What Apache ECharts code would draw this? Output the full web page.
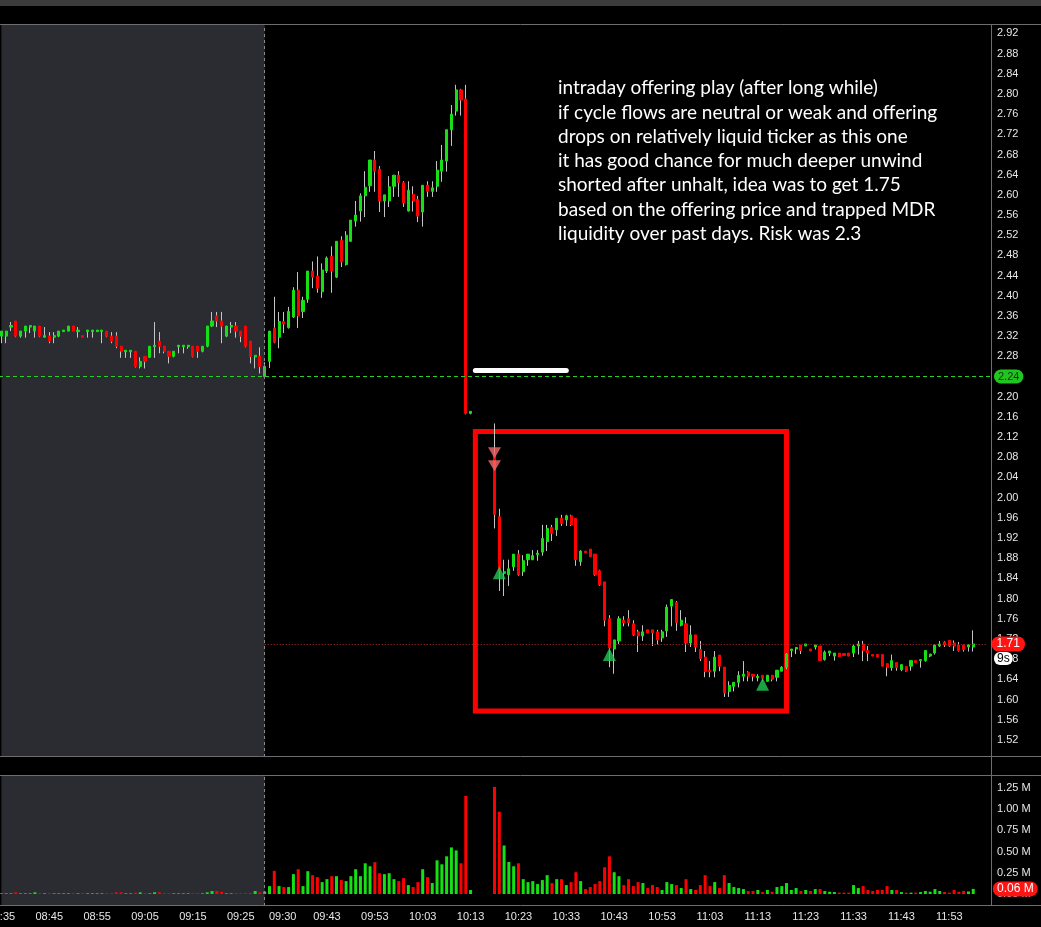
<!DOCTYPE html>
<html><head><meta charset="utf-8">
<script src="https://cdn.jsdelivr.net/npm/echarts@6/dist/echarts.min.js"></script>
<style>html,body{margin:0;padding:0;background:#000;}#c{width:1041px;height:927px;}</style>
</head><body><div id="c"></div>
<script>
// ---------- DATA ----------
// one row per minute from 08:35, [open, close, low, high]; null = halted (no bar)
const candleRows = [
[2.32,2.33,2.306,2.33],[2.32,2.33,2.306,2.33],[2.338,2.341,2.33,2.348],[2.35,2.32,2.318,2.35],[2.32,2.33,2.317,2.33],
[2.33,2.34,2.317,2.34],[2.338,2.341,2.326,2.341],[2.33,2.34,2.317,2.34],[2.34,2.32,2.318,2.34],[2.318,2.321,2.317,2.338],
[2.32,2.31,2.306,2.328],[2.318,2.321,2.306,2.328],[2.32,2.33,2.318,2.33],[2.329,2.332,2.329,2.332],[2.33,2.34,2.33,2.34],
[2.34,2.33,2.33,2.34],[2.329,2.332,2.317,2.338],[2.321,2.318,2.318,2.321],[2.329,2.332,2.317,2.332],[2.329,2.332,2.317,2.332],
[2.329,2.332,2.329,2.332],[2.329,2.332,2.306,2.332],[2.33,2.32,2.318,2.33],[2.32,2.31,2.306,2.328],[2.32,2.30,2.296,2.328],
[2.30,2.29,2.277,2.30],[2.289,2.292,2.277,2.292],[2.289,2.292,2.277,2.292],[2.29,2.26,2.258,2.29],[2.26,2.27,2.256,2.278],
[2.28,2.27,2.256,2.28],[2.278,2.30,2.277,2.30],[2.299,2.302,2.277,2.348],[2.31,2.30,2.286,2.328],[2.30,2.29,2.286,2.30],
[2.29,2.28,2.266,2.29],[2.28,2.29,2.278,2.29],[2.299,2.302,2.286,2.302],[2.299,2.302,2.286,2.302],[2.299,2.302,2.295,2.302],
[2.30,2.28,2.278,2.30],[2.30,2.29,2.277,2.30],[2.29,2.30,2.288,2.30],[2.30,2.34,2.298,2.34],[2.34,2.35,2.338,2.368],
[2.36,2.35,2.338,2.368],[2.35,2.34,2.306,2.368],[2.32,2.34,2.318,2.34],[2.338,2.341,2.326,2.348],[2.34,2.33,2.317,2.348],
[2.33,2.32,2.308,2.33],[2.34,2.30,2.298,2.34],[2.31,2.28,2.266,2.31],[2.279,2.282,2.256,2.282],[2.28,2.26,2.246,2.298],
// 09:30
[2.24,2.26,2.24,2.268],[2.27,2.33,2.257,2.33],[2.336,2.308,2.306,2.398],[2.318,2.349,2.296,2.368],[2.349,2.344,2.326,2.368],
[2.337,2.369,2.335,2.378],[2.358,2.411,2.356,2.417],[2.411,2.36,2.336,2.447],[2.369,2.391,2.356,2.398],[2.393,2.449,2.386,2.449],
[2.449,2.437,2.415,2.468],[2.439,2.415,2.406,2.478],[2.408,2.451,2.396,2.464],[2.449,2.475,2.445,2.478],[2.478,2.449,2.406,2.498],
[2.437,2.508,2.435,2.508],[2.51,2.467,2.457,2.518],[2.462,2.52,2.46,2.528],[2.508,2.55,2.507,2.55],[2.548,2.56,2.537,2.588],
[2.568,2.598,2.547,2.603],[2.598,2.615,2.556,2.647],[2.618,2.669,2.606,2.669],[2.669,2.647,2.606,2.687],[2.651,2.588,2.566,2.657],
[2.588,2.60,2.556,2.60],[2.588,2.616,2.576,2.637],[2.617,2.639,2.596,2.639],[2.639,2.624,2.596,2.647],[2.624,2.584,2.576,2.627],
[2.568,2.609,2.567,2.627],[2.601,2.588,2.567,2.617],[2.591,2.558,2.546,2.598],[2.566,2.619,2.537,2.619],[2.619,2.607,2.596,2.627],
[2.607,2.614,2.596,2.627],[2.617,2.649,2.606,2.667],[2.647,2.669,2.626,2.699],[2.667,2.729,2.646,2.729],[2.729,2.76,2.697,2.778],
[2.766,2.808,2.757,2.818],[2.808,2.788,2.757,2.81],[2.79,2.167,2.165,2.818],[2.167,2.171,2.165,2.171],
null,null,null,null,
// 10:18
[2.086,1.967,1.939,2.147],[1.962,1.855,1.815,1.978],[1.850,1.853,1.805,1.877],[1.847,1.859,1.825,1.877],[1.863,1.888,1.855,1.888],
[1.888,1.847,1.845,1.896],[1.853,1.875,1.845,1.886],[1.877,1.888,1.865,1.888],[1.877,1.885,1.876,1.896],[1.887,1.890,1.875,1.896],
[1.892,1.919,1.885,1.946],[1.913,1.939,1.894,1.946],[1.941,1.929,1.914,1.946],[1.936,1.959,1.924,1.959],[1.959,1.949,1.944,1.966],
[1.956,1.964,1.944,1.966],[1.964,1.946,1.944,1.966],[1.959,1.877,1.865,1.959],[1.873,1.894,1.865,1.896],[1.894,1.891,1.891,1.894],
[1.898,1.883,1.883,1.898],[1.888,1.847,1.845,1.888],[1.855,1.827,1.825,1.857],[1.833,1.757,1.745,1.833],[1.760,1.702,1.664,1.767],
[1.700,1.718,1.651,1.718],[1.716,1.760,1.710,1.765],[1.757,1.752,1.745,1.765],[1.760,1.752,1.745,1.777],[1.750,1.728,1.726,1.757],
[1.734,1.726,1.694,1.738],[1.726,1.734,1.716,1.747],[1.738,1.732,1.732,1.738],[1.738,1.732,1.706,1.738],[1.734,1.718,1.709,1.738],
[1.722,1.734,1.714,1.738],[1.736,1.783,1.724,1.788],[1.785,1.798,1.745,1.798],[1.792,1.752,1.736,1.795],[1.747,1.757,1.745,1.777],
[1.750,1.712,1.694,1.763],[1.712,1.728,1.704,1.747],[1.728,1.704,1.694,1.728],[1.699,1.681,1.676,1.716],[1.684,1.655,1.644,1.696],
[1.658,1.655,1.644,1.676],[1.656,1.684,1.644,1.696],[1.688,1.666,1.656,1.688],[1.664,1.613,1.605,1.664],[1.616,1.628,1.605,1.636],
[1.626,1.634,1.616,1.634],[1.634,1.648,1.624,1.656],[1.646,1.650,1.636,1.676],[1.654,1.646,1.636,1.656],[1.650,1.646,1.636,1.650],
[1.643,1.646,1.636,1.650],[1.648,1.642,1.636,1.648],[1.636,1.648,1.636,1.648],[1.648,1.640,1.636,1.648],[1.644,1.658,1.636,1.658],
[1.656,1.664,1.656,1.666],[1.664,1.690,1.660,1.692],[1.697,1.700,1.684,1.700],[1.700,1.703,1.690,1.703],[1.708,1.697,1.690,1.708],
[1.706,1.710,1.706,1.710],[1.700,1.696,1.696,1.700],[1.704,1.708,1.699,1.708],[1.706,1.677,1.677,1.706],[1.679,1.694,1.677,1.697],
[1.692,1.696,1.686,1.696],[1.686,1.692,1.677,1.692],[1.692,1.685,1.685,1.692],[1.691,1.687,1.687,1.691],[1.692,1.686,1.686,1.692],
[1.692,1.706,1.684,1.709],[1.706,1.710,1.689,1.716],[1.710,1.697,1.676,1.716],[1.697,1.692,1.676,1.706],[1.689,1.686,1.686,1.689],
[1.689,1.684,1.684,1.689],[1.689,1.666,1.666,1.689],[1.671,1.663,1.646,1.671],[1.663,1.677,1.657,1.689],[1.673,1.663,1.657,1.673],
[1.659,1.669,1.656,1.669],[1.665,1.656,1.655,1.665],[1.666,1.677,1.657,1.677],[1.677,1.673,1.673,1.677],[1.677,1.679,1.663,1.679],
[1.677,1.697,1.675,1.697],[1.686,1.690,1.684,1.690],[1.692,1.708,1.689,1.709],[1.706,1.710,1.704,1.716],[1.714,1.708,1.704,1.716],
[1.717,1.706,1.704,1.717],[1.712,1.706,1.696,1.717],[1.708,1.697,1.695,1.714],[1.708,1.699,1.695,1.708],[1.704,1.708,1.695,1.709],
[1.704,1.710,1.695,1.737]
];
// volume per minute, millions of shares (null = halted)
const volumeM = [
.008,.008,.008,.02,.008,.008,.008,.02,.008,.008,.008,.008,.008,.008,.008,.008,.008,.008,.008,.008,
.008,.008,.008,.008,.02,.02,.008,.008,.015,.02,.008,.008,.02,.02,.008,.008,.008,.008,.008,.008,
.008,.008,.008,.02,.035,.035,.025,.008,.008,.008,.008,.008,.01,.035,.02,
.03,.093,.273,.093,.082,.082,.234,.292,.093,.269,.222,.199,.140,.175,.210,.210,.164,.152,.210,.292,
.210,.362,.327,.374,.245,.234,.245,.175,.152,.187,.105,.082,.140,.292,.199,.129,.397,.350,.444,.549,
.514,.362,1.157,.047,null,null,null,null,
1.262,.970,.572,.378,.327,.362,.175,.140,.152,.117,.164,.222,.129,.175,.175,.105,.140,.257,.152,.058,
.082,.117,.152,.315,.444,.257,.210,.105,.175,.093,.140,.129,.070,.105,.082,.047,.140,.117,.105,.070,
.175,.058,.047,.105,.222,.093,.140,.070,.222,.129,.082,.070,.058,.035,.035,.047,.023,.047,.027,.082,
.093,.129,.047,.070,.035,.047,.035,.058,.058,.035,.027,.023,.016,.016,.016,.105,.070,.093,.047,.035,
.047,.047,.093,.047,.047,.023,.016,.016,.016,.023,.035,.027,.058,.035,.023,.016,.047,.027,.035,.03,.06
];
const xTickLabels = ['08:35','08:45','08:55','09:05','09:15','09:25','09:30','09:43','09:53','10:03','10:13',
  '10:23','10:33','10:43','10:53','11:03','11:13','11:23','11:33','11:43','11:53'];
const priceTicks = [1.52,1.56,1.60,1.64,1.68,1.72,1.76,1.80,1.84,1.88,1.92,1.96,2.00,2.04,2.08,2.12,2.16,2.20,
  2.24,2.28,2.32,2.36,2.40,2.44,2.48,2.52,2.56,2.60,2.64,2.68,2.72,2.76,2.80,2.84,2.88,2.92];
const volumeTicks = [0, 0.25, 0.5, 0.75, 1.0, 1.25];
const noteLines = [
  'intraday offering play (after long while)',
  'if cycle flows are neutral or weak and offering',
  'drops on relatively liquid ticker as this one',
  'it has good chance for much deeper unwind',
  'shorted after unhalt, idea was to get 1.75',
  'based on the offering price and trapped MDR',
  'liquidity over past days. Risk was 2.3'
];
const refPrice = 2.24;
const sessionOpen = '09:30';
const sellMarks = [['10:18', 2.089], ['10:18', 2.063]];
const buyMarks = [['10:19', 1.851], ['10:42', 1.689], ['11:14', 1.630]];
const tradeBox = [['10:14', 2.131], ['11:19', 1.577]];
const penStroke = [['10:14', 2.252], ['10:33', 2.252]];
const countdownText = '9s';

// ---------- BUILD ----------
const times = [];
for (let i = 0; i < 207; i++) {
  const m = 8 * 60 + 35 + i;
  times.push(String(Math.floor(m / 60)).padStart(2, '0') + ':' + String(m % 60).padStart(2, '0'));
}
const UP = '#14e014', DOWN = '#ff0000', WICK = '#c4c4c4', PRE_BG = '#2b2c31';
const TXT = '#e6e6e6', FONT = '"Liberation Sans", Arial, sans-serif';
const EMPTY = ['-', '-', '-', '-'];
const wickData = candleRows.map(r => r ? r.slice() : EMPTY);
const bodyData = candleRows.map(r => r ? [r[0], r[1], Math.min(r[0], r[1]), Math.max(r[0], r[1])] : EMPTY);
const volData = volumeM.map((v, i) => v == null ? '-' : {
  value: v, itemStyle: { color: candleRows[i][1] >= candleRows[i][0] ? UP : DOWN }
});
const lastIdx = candleRows.length - 1;
const lastClose = candleRows[lastIdx][1];
const lastVol = volumeM[lastIdx];

const chart = echarts.init(document.getElementById('c'), null, { renderer: 'canvas' });
chart.setOption({
  backgroundColor: '#000',
  animation: false,
  title: {
    text: noteLines.join('\n'), left: 558, top: 76, padding: 0,
    textStyle: { color: '#ffffff', fontSize: 19, fontWeight: 'normal', fontFamily: 'Lato, "Open Sans", sans-serif', lineHeight: 24.3 }
  },
  grid: [
    { left: -1, right: 51, top: 24, height: 733, containLabel: false, outerBoundsMode: 'none' },
    { left: -1, right: 51, top: 775, height: 131, containLabel: false, outerBoundsMode: 'none' }
  ],
  xAxis: [
    { type: 'category', gridIndex: 0, data: times, boundaryGap: true,
      axisLine: { show: false }, axisTick: { show: false }, axisLabel: { show: false }, splitLine: { show: false } },
    { type: 'category', gridIndex: 1, data: times, boundaryGap: true,
      axisLine: { show: false }, axisTick: { show: false }, splitLine: { show: false },
      axisLabel: {
        interval: (i, v) => xTickLabels.indexOf(v) >= 0,
        color: TXT, fontSize: 11, fontFamily: FONT, margin: 5,
        formatter: v => v === sessionOpen ? '{s|' + v + '}' : v,
        rich: { s: { padding: [0, 0, 0, 36], color: TXT, fontSize: 11, fontFamily: FONT } }
      } }
  ],
  yAxis: [
    { type: 'value', gridIndex: 0, position: 'right', min: 1.486, max: 2.9386,
      axisLine: { show: false }, axisTick: { show: false }, splitLine: { show: false },
      axisLabel: { customValues: priceTicks, formatter: v => v.toFixed(2), color: TXT, fontSize: 11, fontFamily: FONT, margin: 7 } },
    { type: 'value', gridIndex: 1, position: 'right', min: -0.1415, max: 1.403,
      axisLine: { show: false }, axisTick: { show: false }, splitLine: { show: false },
      axisLabel: { customValues: volumeTicks, formatter: v => v.toFixed(2) + ' M', color: TXT, fontSize: 11, fontFamily: FONT, margin: 7 } }
  ],
  series: [
    { // wicks
      type: 'candlestick', name: 'wick', xAxisIndex: 0, yAxisIndex: 0, z: 2, barWidth: 1,
      data: wickData,
      itemStyle: { color: WICK, color0: WICK, borderColor: WICK, borderColor0: WICK, borderWidth: 1 },
      markArea: { silent: true, itemStyle: { color: PRE_BG },
        data: [[{ xAxis: times[0] }, { xAxis: sessionOpen }]] },
      markLine: { silent: true, symbol: 'none',
        data: [{ xAxis: sessionOpen, lineStyle: { color: '#8a8a8a', type: [3, 3], width: 1 }, label: { show: false } }] }
    },
    { // bodies
      type: 'candlestick', name: 'body', xAxisIndex: 0, yAxisIndex: 0, z: 3, barWidth: 2.6,
      data: bodyData,
      itemStyle: { color: UP, color0: DOWN, borderColor: UP, borderColor0: DOWN, borderWidth: 1 },
      markLine: { silent: true, symbol: 'none',
        data: [
          { yAxis: refPrice, lineStyle: { color: '#27d027', type: [4, 3], width: 1 },
            label: { show: true, position: 'end', distance: 4, formatter: refPrice.toFixed(2), color: '#0d3a0d',
              backgroundColor: '#22c422', borderRadius: 7, padding: [2, 4, 1, 4], fontSize: 11, fontFamily: FONT } },
          [ { coord: [sessionOpen, lastClose] }, { coord: [times[times.length - 1], lastClose],
            lineStyle: { color: '#b43030', type: [1, 2], width: 1 },
            label: { show: true, position: 'end', distance: 4, formatter: lastClose.toFixed(2), color: '#ffffff',
              backgroundColor: '#ff1414', borderRadius: 7, padding: [2, 5, 1, 5], fontSize: 12, fontFamily: FONT } } ]
        ] }
    },
    { // short entries
      type: 'scatter', name: 'sell', xAxisIndex: 0, yAxisIndex: 0, z: 6,
      symbol: 'triangle', symbolRotate: 180, symbolSize: [13, 11],
      itemStyle: { color: '#f36a6a' }, data: sellMarks,
      markArea: { silent: true,
        itemStyle: { color: 'rgba(0,0,0,0)', borderColor: '#ff0000', borderWidth: 5 },
        data: [[{ xAxis: tradeBox[0][0], yAxis: tradeBox[0][1] }, { xAxis: tradeBox[1][0], yAxis: tradeBox[1][1] }]] },
      markLine: { silent: true, symbol: 'none',
        data: [[ { coord: penStroke[0] }, { coord: penStroke[1],
          lineStyle: { color: '#ffffff', width: 5, type: 'solid', cap: 'round' }, label: { show: false } } ]] }
    },
    { // covers
      type: 'scatter', name: 'buy', xAxisIndex: 0, yAxisIndex: 0, z: 6,
      symbol: 'triangle', symbolSize: [13, 13],
      itemStyle: { color: '#22c955' }, data: buyMarks
    },
    { // premarket shading + session marker for the volume pane (carries no marks of its own)
      type: 'line', name: 'volPane', xAxisIndex: 1, yAxisIndex: 1, z: 1, symbol: 'none',
      data: times.map(() => '-'),
      markArea: { silent: true, itemStyle: { color: PRE_BG },
        data: [[{ xAxis: times[0] }, { xAxis: sessionOpen }]] },
      markLine: { silent: true, symbol: 'none',
        data: [{ xAxis: sessionOpen, lineStyle: { color: '#8a8a8a', type: [3, 3], width: 1 }, label: { show: false } }] }
    },
    { // volume
      type: 'bar', name: 'volume', xAxisIndex: 1, yAxisIndex: 1, z: 3, barWidth: 3,
      data: volData,
      markLine: { silent: true, symbol: 'none',
        data: [
          { yAxis: lastVol, lineStyle: { color: 'rgba(0,0,0,0)', width: 0 },
            label: { show: true, position: 'end', distance: 3, formatter: lastVol.toFixed(2) + ' M', color: '#ffffff',
              backgroundColor: '#ff1414', borderRadius: 7, padding: [2, 4, 1, 4], fontSize: 12, fontFamily: FONT } }
        ] }
    }
  ],
  graphic: [
    { type: 'rect', shape: { x: 0, y: 0, width: 1041, height: 6 }, style: { fill: '#3c3c3c' }, silent: true, z: 10 },
    { type: 'line', shape: { x1: 0, y1: 24.5, x2: 1041, y2: 24.5 }, style: { stroke: '#6e6e6e', lineWidth: 1 }, silent: true, z: 10 },
    { type: 'line', shape: { x1: 0, y1: 756.5, x2: 1041, y2: 756.5 }, style: { stroke: '#6e6e6e', lineWidth: 1 }, silent: true, z: 10 },
    { type: 'line', shape: { x1: 0, y1: 775.5, x2: 1041, y2: 775.5 }, style: { stroke: '#6e6e6e', lineWidth: 1 }, silent: true, z: 10 },
    { type: 'line', shape: { x1: 0, y1: 905.5, x2: 1041, y2: 905.5 }, style: { stroke: '#6e6e6e', lineWidth: 1 }, silent: true, z: 10 },
    { type: 'line', shape: { x1: 991.5, y1: 24, x2: 991.5, y2: 906 }, style: { stroke: '#6e6e6e', lineWidth: 1 }, silent: true, z: 10 },
    { type: 'text', x: 994, y: 652, z: 20, silent: true,
      style: { text: countdownText, fill: '#000', backgroundColor: '#ffffff', borderRadius: 6, padding: [1, 3, 0, 3],
        fontSize: 12, fontFamily: FONT } }
  ]
});
</script></body></html>
